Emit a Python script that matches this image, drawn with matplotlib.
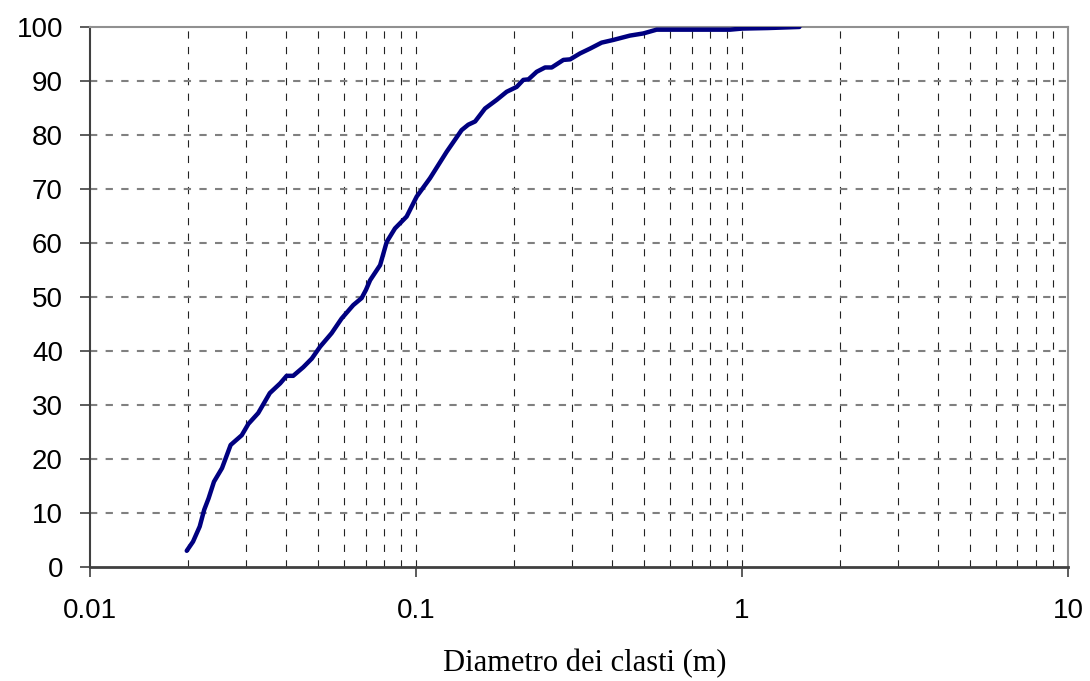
import matplotlib
matplotlib.use("Agg")
import matplotlib.pyplot as plt
from matplotlib.ticker import FixedLocator, NullFormatter

# Curva granulometrica: diametro (m) vs percentuale passante
diametro = [0.0198, 0.0207, 0.0217, 0.0224, 0.0231, 0.0240, 0.0254, 0.0270, 0.0292,
            0.0306, 0.0328, 0.0356, 0.0383, 0.0401, 0.0420, 0.0451, 0.0479, 0.0508,
            0.0551, 0.0591, 0.0642, 0.0681, 0.0702, 0.0723, 0.0776, 0.0813, 0.0862,
            0.0936, 0.1005, 0.1104, 0.1242, 0.138, 0.1446, 0.1518, 0.1628, 0.1768,
            0.1897, 0.2036, 0.2134, 0.2213, 0.2345, 0.2488, 0.2608, 0.2832, 0.297,
            0.3185, 0.342, 0.371, 0.403, 0.453, 0.498, 0.547, 0.919, 1.0, 1.2, 1.5]
passante = [3.0, 4.7, 7.5, 10.6, 12.7, 15.8, 18.3, 22.6, 24.4,
            26.5, 28.5, 32.2, 34.0, 35.4, 35.4, 37.0, 38.6, 40.8,
            43.3, 46.0, 48.5, 49.8, 51.3, 53.1, 55.9, 60.2, 62.7,
            64.9, 68.6, 72.0, 76.9, 80.9, 81.9, 82.5, 84.9, 86.5,
            88.0, 88.9, 90.2, 90.3, 91.7, 92.5, 92.5, 93.9, 94.0,
            95.1, 96.0, 97.1, 97.6, 98.4, 98.8, 99.5, 99.5, 99.7, 99.8, 100.0]

x_ticks = [0.01, 0.1, 1, 10]
x_labels = ["0.01", "0.1", "1", "10"]
y_ticks = list(range(0, 101, 10))

fig = plt.figure(figsize=(10.9, 6.81), dpi=100)
ax = fig.add_axes([0.0826, 0.1674, 0.8972, 0.793])

ax.set_xscale("log")
ax.set_xlim(0.01, 10)
ax.set_ylim(0, 100)

# griglia verticale (tutte le suddivisioni) e orizzontale
minor = [m * d for d in (0.01, 0.1, 1) for m in range(2, 10)]
for xv in minor + x_ticks[1:-1]:
    ax.axvline(xv, color="#222222", lw=0.8, ls=(0, (6.5, 7.5)), zorder=1)
for yv in y_ticks[1:-1]:
    ax.axhline(yv, color="#808080", lw=1.5, ls=(0, (3.5, 4)), zorder=1)

ax.plot(diametro, passante, color="#000080", lw=3.2, zorder=3,
        solid_joinstyle="round", solid_capstyle="round")

ax.xaxis.set_major_locator(FixedLocator(x_ticks))
ax.set_xticklabels(x_labels)
ax.xaxis.set_minor_locator(FixedLocator(minor))
ax.xaxis.set_minor_formatter(NullFormatter())
ax.tick_params(axis="x", which="minor", length=0)
ax.set_yticks(y_ticks)

ax.tick_params(axis="both", which="major", direction="out", length=7.5, width=1.2,
               color="#404040", labelsize=20)
ax.tick_params(axis="y", pad=12)
ax.tick_params(axis="x", pad=15)
for lab in ax.get_xticklabels() + ax.get_yticklabels():
    lab.set_family("Liberation Sans")

ax.spines["left"].set_color("#404040")
ax.spines["bottom"].set_color("#404040")
ax.spines["left"].set_linewidth(1.5)
ax.spines["bottom"].set_linewidth(2)
ax.spines["top"].set_color("#909090")
ax.spines["right"].set_color("#909090")
ax.spines["top"].set_linewidth(1.5)
ax.spines["right"].set_linewidth(1.5)

fig.text(585 / 1090, 1 - 664 / 681, "Diametro dei clasti (m)", family="Liberation Serif",
         fontsize=22, ha="center", va="center")

fig.savefig("out.png", dpi=100)
